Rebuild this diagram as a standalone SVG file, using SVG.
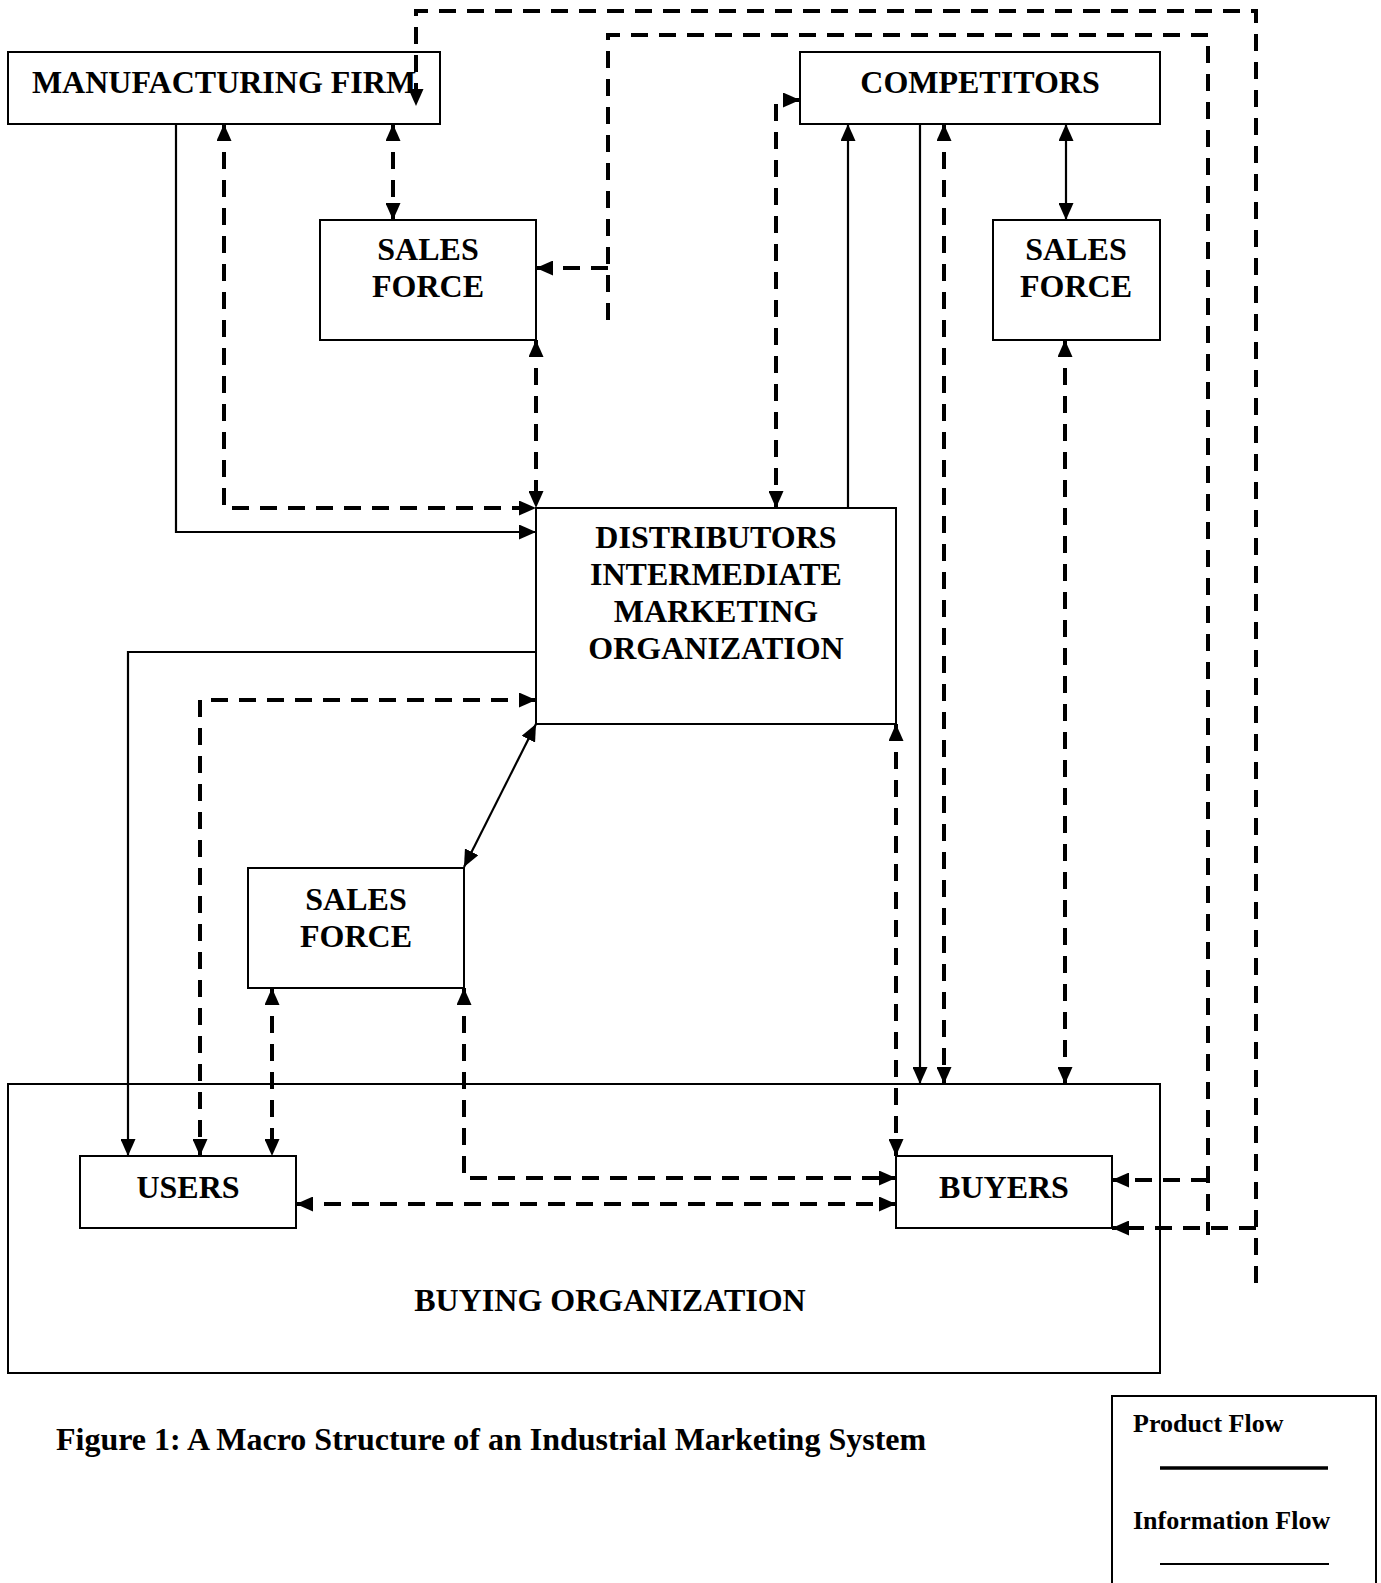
<svg xmlns="http://www.w3.org/2000/svg" width="1381" height="1583" viewBox="0 0 1381 1583">
<defs>
<style>
.box{fill:#fff;stroke:#000;stroke-width:2}
.t{font-family:"Liberation Serif","Times New Roman",serif;font-weight:bold;font-size:32px;text-anchor:middle;fill:#000}
.lg{font-family:"Liberation Serif","Times New Roman",serif;font-weight:bold;font-size:26px;fill:#000}
.solid{fill:none;stroke:#000;stroke-width:2.2}
.dash{fill:none;stroke:#000;stroke-width:4;stroke-dasharray:17 11}
.ae{marker-end:url(#ah)}
.as{marker-start:url(#ah)}
</style>
<marker id="ah" viewBox="0 0 17 15" refX="17" refY="7.5" markerWidth="17" markerHeight="15" markerUnits="userSpaceOnUse" orient="auto-start-reverse">
<path d="M0 0 L17 7.5 L0 15 Z" fill="#000"/>
</marker>
</defs>
<rect width="1381" height="1583" fill="#fff"/>

<g id="buying-org">
<rect class="box" x="8" y="1084" width="1152" height="289"/>
<text class="t" x="610" y="1311">BUYING ORGANIZATION</text>
</g>
<g id="manufacturing-firm">
<rect class="box" x="8" y="52" width="432" height="72"/>
<text class="t" x="224" y="93">MANUFACTURING FIRM</text>
</g>
<g id="competitors">
<rect class="box" x="800" y="52" width="360" height="72"/>
<text class="t" x="980" y="93">COMPETITORS</text>
</g>
<g id="sales-force-1">
<rect class="box" x="320" y="220" width="216" height="120"/>
<text class="t" x="428" y="260">SALES</text>
<text class="t" x="428" y="297">FORCE</text>
</g>
<g id="sales-force-2">
<rect class="box" x="993" y="220" width="167" height="120"/>
<text class="t" x="1076" y="260">SALES</text>
<text class="t" x="1076" y="297">FORCE</text>
</g>
<g id="distributors">
<rect class="box" x="536" y="508" width="360" height="216"/>
<text class="t" x="716" y="548">DISTRIBUTORS</text>
<text class="t" x="716" y="585">INTERMEDIATE</text>
<text class="t" x="716" y="622">MARKETING</text>
<text class="t" x="716" y="659">ORGANIZATION</text>
</g>
<g id="sales-force-3">
<rect class="box" x="248" y="868" width="216" height="120"/>
<text class="t" x="356" y="910">SALES</text>
<text class="t" x="356" y="947">FORCE</text>
</g>
<g id="users">
<rect class="box" x="80" y="1156" width="216" height="72"/>
<text class="t" x="188" y="1198">USERS</text>
</g>
<g id="buyers">
<rect class="box" x="896" y="1156" width="216" height="72"/>
<text class="t" x="1004" y="1198">BUYERS</text>
</g>

<g id="connectors">
<path class="solid ae" d="M176 124 V532 H536"/>
<path class="dash as ae" d="M224 124 V508 H536"/>
<path class="dash as ae" d="M393 124 V220"/>
<path class="dash as ae" d="M536 340 V508"/>
<path class="dash ae" d="M1256 1283 V11 H416 V106"/>
<path class="dash ae" d="M1256 1228 H1112"/>
<path class="dash" d="M608 320 V35 H1208 V1235"/>
<path class="dash ae" d="M608 268 H536"/>
<path class="dash ae" d="M1208 1180 H1112"/>
<path class="dash as ae" d="M800 100 H776 V508"/>
<path class="solid ae" d="M848 508 V124"/>
<path class="solid ae" d="M920 124 V1084"/>
<path class="dash as ae" d="M944 124 V1084"/>
<path class="solid as ae" d="M1066 124 V220"/>
<path class="dash as ae" d="M1065 340 V1084"/>
<path class="dash as ae" d="M896 724 V1156"/>
<path class="solid ae" d="M536 652 H128 V1156"/>
<path class="dash as ae" d="M536 700 H200 V1156"/>
<path class="solid as ae" d="M536 724 L464 867"/>
<path class="dash as ae" d="M272 988 V1156"/>
<path class="dash as ae" d="M464 988 V1178 H896"/>
<path class="dash as ae" d="M296 1204 H896"/>
</g>

<g id="caption">
<text class="t" x="56" y="1450" style="text-anchor:start">Figure 1: A Macro Structure of an Industrial Marketing System</text>
</g>
<g id="legend">
<rect class="box" x="1112" y="1396" width="264" height="200"/>
<text class="lg" x="1133" y="1432">Product Flow</text>
<line x1="1160" y1="1468" x2="1328" y2="1468" stroke="#000" stroke-width="3.5"/>
<text class="lg" x="1133" y="1529">Information Flow</text>
<line x1="1160" y1="1564" x2="1329" y2="1564" stroke="#000" stroke-width="2"/>
</g>
</svg>
